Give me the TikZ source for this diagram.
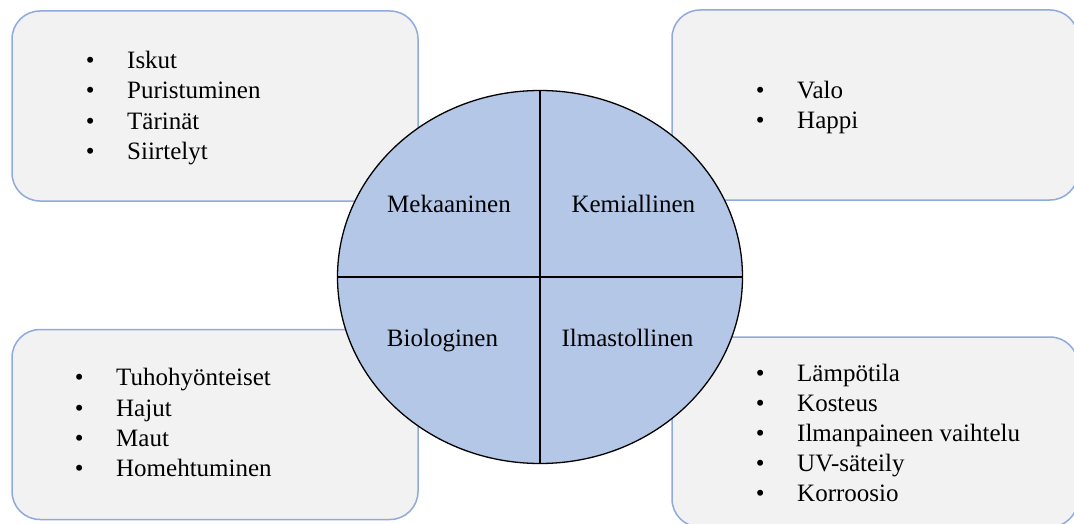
\documentclass[tikz,border=0pt]{standalone}
\usepackage{fontspec}
\setmainfont{Liberation Serif}
\usetikzlibrary{shapes.geometric}
\definecolor{boxfill}{HTML}{F2F2F2}
\definecolor{boxline}{HTML}{8FAADC}
\definecolor{wheelfill}{HTML}{B4C7E7}
\newcommand\bulletmark{\llap{•\hspace{32.6pt}}}
\begin{document}
\begin{tikzpicture}[x=1pt,y=-1pt,
  panel/.style={draw=boxline, fill=boxfill, line width=1.5pt, rounded corners=28pt,
    minimum width=406pt, minimum height=190pt, inner sep=0pt},
  item/.style={anchor=base west, inner sep=0pt, font=\fontsize{25}{30}\selectfont},
  sector/.style={anchor=base, inner sep=0pt, font=\fontsize{25}{30}\selectfont},
  divider/.style={line width=1.5pt}]
\useasboundingbox (0,0) rectangle (1074,524);
% panels
\node[panel] (tl) at (215,106) {};
\node[panel] (tr) at (875,105) {};
\node[panel] (bl) at (215,424.5) {};
\node[panel] (br) at (875,432) {};
% top-left items
\node[item] (tl1) at (127,68.5) {\bulletmark Iskut};
\node[item] (tl2) at (127,98.9) {\bulletmark Puristuminen};
\node[item] (tl3) at (127,129.3) {\bulletmark Tärinät};
\node[item] (tl4) at (127,159.7) {\bulletmark Siirtelyt};
% top-right items
\node[item] (tr1) at (797,98.7) {\bulletmark Valo};
\node[item] (tr2) at (797,129) {\bulletmark Happi};
% bottom-left items
\node[item] (bl1) at (116,385.7) {\bulletmark Tuhohyönteiset};
\node[item] (bl2) at (116,416) {\bulletmark Hajut};
\node[item] (bl3) at (116,446.4) {\bulletmark Maut};
\node[item] (bl4) at (116,476.7) {\bulletmark Homehtuminen};
% bottom-right items
\node[item] (br1) at (797,381) {\bulletmark Lämpötila};
\node[item] (br2) at (797,411.2) {\bulletmark Kosteus};
\node[item] (br3) at (797,441.4) {\bulletmark Ilmanpaineen vaihtelu};
\node[item] (br4) at (797,471.6) {\bulletmark UV-säteily};
\node[item] (br5) at (797,501.8) {\bulletmark Korroosio};
% central wheel
\node[draw=black, fill=wheelfill, ellipse, line width=1.3pt, minimum width=405pt,
  minimum height=373pt, inner sep=0pt] (wheel) at (540,277) {};
\draw[divider] (wheel.north) -- (wheel.south);
\draw[divider] (wheel.west) -- (wheel.east);
\node[sector] (mek) at (449,212.3) {Mekaaninen};
\node[sector] (kem) at (633.3,212.3) {Kemiallinen};
\node[sector] (bio) at (442.5,346.7) {Biologinen};
\node[sector] (ilm) at (627.5,346.7) {Ilmastollinen};
\end{tikzpicture}
\end{document}
